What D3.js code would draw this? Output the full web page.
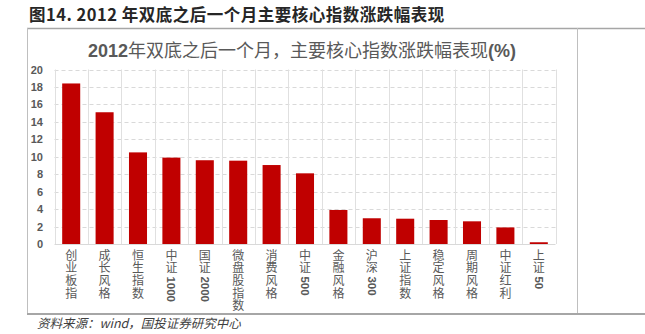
<!DOCTYPE html>
<html><head><meta charset="utf-8">
<script src="https://cdn.jsdelivr.net/npm/d3@7"></script>
<style>body{margin:0;background:#fff}svg{display:block}</style>
</head><body>
<script>
const categories = ["创业板指","成长风格","恒生指数","中证1000","国证2000","微盘股指数","消费风格","中证500","金融风格","沪深300","上证指数","稳定风格","周期风格","中证红利","上证50"];
const values = [18.4,15.1,10.5,9.9,9.6,9.55,9.05,8.1,3.9,2.95,2.9,2.75,2.6,1.9,0.2];
const yTicks = [0,2,4,6,8,10,12,14,16,18,20];
const figTitle = "图14. 2012 年双底之后一个月主要核心指数涨跌幅表现";
const chartTitle = "2012年双底之后一个月，主要核心指数涨跌幅表现(%)";
const source = "资料来源：wind，国投证券研究中心";

const W=645,H=334;
const svg=d3.select("body").append("svg").attr("width",W).attr("height",H);
const cjk='"Noto Sans CJK SC","Noto Sans",sans-serif';
const lat="'Liberation Sans',Arial,sans-serif";

// frame
svg.append("text").attr("x",29).attr("y",21).attr("font-family",cjk).attr("font-weight","bold")
  .attr("font-size",16.5).attr("letter-spacing",0.5).attr("fill","#262626").text(figTitle);
svg.append("line").attr("x1",27).attr("x2",645).attr("y1",28.5).attr("y2",28.5).attr("stroke","#a6a6a6").attr("stroke-width",1.5);
svg.append("line").attr("x1",27.5).attr("x2",27.5).attr("y1",28).attr("y2",314).attr("stroke","#bfbfbf");
svg.append("line").attr("x1",577.5).attr("x2",577.5).attr("y1",28).attr("y2",314).attr("stroke","#bfbfbf");
svg.append("line").attr("x1",27).attr("x2",645).attr("y1",314).attr("y2",314).attr("stroke","#a6a6a6").attr("stroke-width",2);
svg.append("text").attr("x",37).attr("y",328).attr("font-family",cjk).attr("font-style","italic")
  .attr("font-size",12.5).attr("fill","#404040").text(source);

// chart title (ASCII runs bold, as in the reference)
const ct=svg.append("text").attr("x",302).attr("y",57).attr("text-anchor","middle").attr("font-family",cjk)
  .attr("font-size",18).attr("fill","#595959");
chartTitle.match(/[0-9()%]+|[^0-9()%]+/g).forEach(p=>{
  const s=ct.append("tspan").text(p);
  if(/^[0-9()%]+$/.test(p)) s.attr("font-family",lat).attr("font-weight","bold");
});

const x=d3.scaleBand().domain(categories).range([54.5,555.5]).paddingInner(0.46).paddingOuter(0.23);
const y=d3.scaleLinear().domain([0,20]).range([244,69.5]);

// grid
const g=svg.append("g");
g.selectAll("line.h").data(yTicks.filter(d=>d>0)).join("line")
  .attr("x1",54.5).attr("x2",555.5).attr("y1",d=>Math.round(y(d))+0.5).attr("y2",d=>Math.round(y(d))+0.5)
  .attr("stroke","#d9d9d9").attr("stroke-dasharray","4,3");
const bounds=d3.range(categories.length+1).map(i=>54.5+i*(501/categories.length));
g.selectAll("line.v").data(bounds).join("line")
  .attr("x1",d=>Math.round(d)+0.5).attr("x2",d=>Math.round(d)+0.5).attr("y1",69.5).attr("y2",244)
  .attr("stroke","#e0e0e0");
g.append("line").attr("x1",54.5).attr("x2",555.5).attr("y1",244.5).attr("y2",244.5).attr("stroke","#d9d9d9");

// y axis
const ya=svg.append("g").attr("transform","translate(43,0)")
  .call(d3.axisLeft(y).tickValues(yTicks).tickSize(0).tickPadding(0));
ya.select(".domain").remove();
ya.selectAll("text").attr("font-family",lat).attr("font-size",11)
  .attr("font-weight","bold").attr("fill","#595959");

// bars
svg.selectAll("rect.bar").data(values).join("rect")
  .attr("x",(d,i)=>x(categories[i])).attr("width",x.bandwidth())
  .attr("y",d=>y(d)).attr("height",d=>y(0)-y(d)).attr("fill","#c00000");

// category labels: one vertical text per character (digit runs kept together)
const lab=svg.append("g").attr("fill","#595959");
categories.forEach(c=>{
  const cx=x(c)+x.bandwidth()/2;
  let yy=249;
  c.match(/[0-9]+|[^0-9]/g).forEach(p=>{
    const t=lab.append("text").attr("x",cx).attr("y",yy)
      .style("writing-mode","vertical-rl").style("text-orientation","mixed").text(p);
    if(/^[0-9]+$/.test(p)){
      t.attr("font-family",lat).attr("font-weight","bold").attr("font-size",11.5).attr("y",yy+2);
      yy+=t.node().getComputedTextLength()+2;
    } else {
      t.attr("font-family",cjk).attr("font-size",12);
      yy+=12.7;
    }
  });
});
</script>
</body></html>
